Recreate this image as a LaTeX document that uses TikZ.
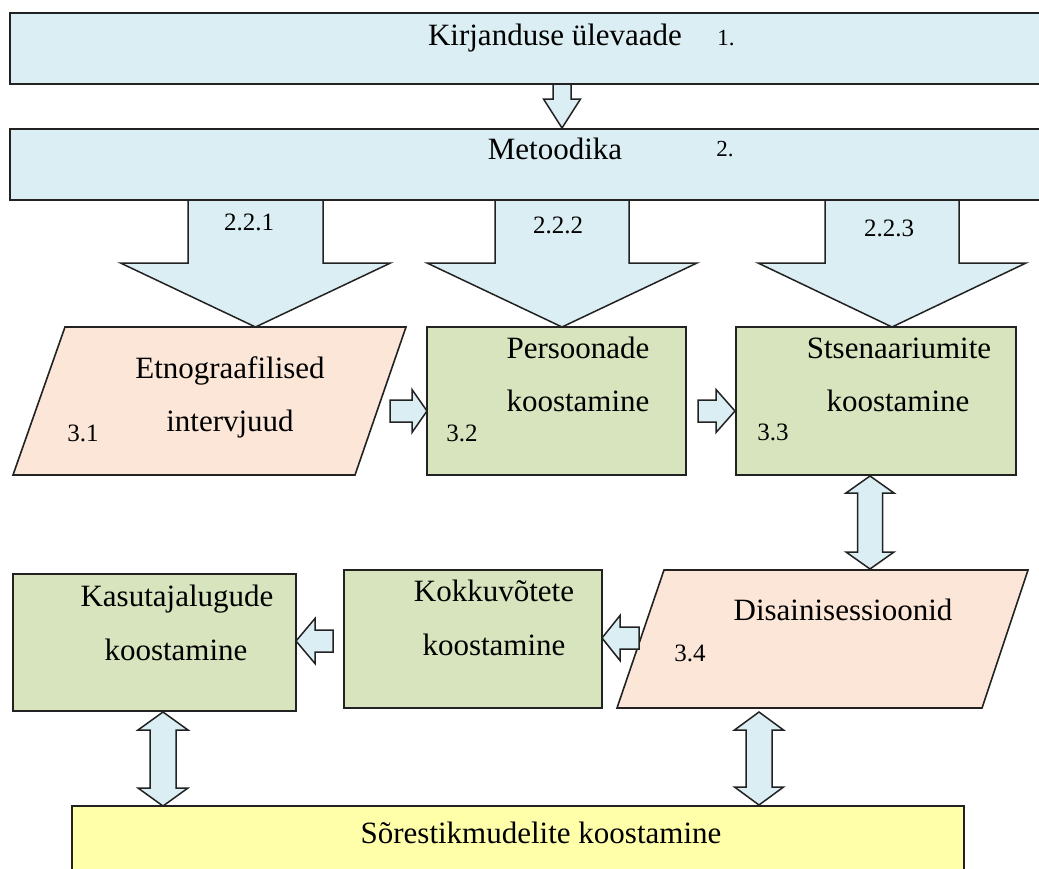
\documentclass[tikz,border=0pt]{standalone}
\usepackage{fontspec}
\setmainfont{Liberation Serif}
\definecolor{blueF}{HTML}{DBEEF4}
\definecolor{greenF}{HTML}{D7E4BD}
\definecolor{peachF}{HTML}{FCE6D8}
\definecolor{yellowF}{HTML}{FFFFAA}
\definecolor{lineC}{HTML}{222222}
\newcommand\blkdown[6]{% cx, ytop, yshoulder, ytip, halfshaft, halfhead
  \draw[barrow] (#1-#5,#2) -- (#1-#5,#3) -- (#1-#6,#3) -- (#1,#4) -- (#1+#6,#3) -- (#1+#5,#3) -- (#1+#5,#2) -- cycle;}
\newcommand\blkh[6]{% xtail, xbase, xtip, cy, halfshaft, halfhead
  \draw[barrow] (#1,#4-#5) -- (#2,#4-#5) -- (#2,#4-#6) -- (#3,#4) -- (#2,#4+#6) -- (#2,#4+#5) -- (#1,#4+#5) -- cycle;}
\newcommand\blkdbl[7]{% cx, ytop, ybase1, ybase2, ybot, halfshaft, halfhead
  \draw[barrow] (#1,#2) -- (#1+#7,#3) -- (#1+#6,#3) -- (#1+#6,#4) -- (#1+#7,#4) -- (#1,#5) -- (#1-#7,#4) -- (#1-#6,#4) -- (#1-#6,#3) -- (#1-#7,#3) -- cycle;}
\begin{document}
\begin{tikzpicture}[x=1pt,y=-1pt,
  rbox/.style={draw=lineC, line width=1.6pt, inner sep=0pt, outer sep=0pt, anchor=north west},
  pbox/.style={draw=lineC, line width=1.6pt, line join=miter},
  barrow/.style={draw=lineC, fill=blueF, line width=1.5pt, line join=miter},
  lbl/.style={font=\fontsize{31}{36}\selectfont, inner sep=0pt, text height=0.68em, text depth=0pt},
  num/.style={font=\fontsize{25}{29}\selectfont, inner sep=0pt, text height=0.68em, text depth=0pt},
  snum/.style={font=\fontsize{23}{27}\selectfont, inner sep=0pt, text height=0.68em, text depth=0pt}]
\clip (0,0) rectangle (1039,868);
\useasboundingbox (0,0) rectangle (1039,868);
\fill[white] (0,0) rectangle (1039,868);

% top boxes
\node[rbox, fill=blueF, minimum width=1045pt, minimum height=71pt] (lit) at (10,13) {};
\node[rbox, fill=blueF, minimum width=1045pt, minimum height=71pt] (met) at (10,129) {};

% row 3
\draw[pbox, fill=peachF] (65,327) coordinate (etA) -- (406,327) -- (355,475) -- (13,475) -- cycle;
\node[rbox, fill=greenF, minimum width=259pt, minimum height=148pt] (per) at (427,327) {};
\node[rbox, fill=greenF, minimum width=280pt, minimum height=148pt] (sts) at (736,327) {};

% row 4
\node[rbox, fill=greenF, minimum width=283pt, minimum height=137pt] (kas) at (13,574) {};
\node[rbox, fill=greenF, minimum width=258pt, minimum height=138pt] (kok) at (344,570) {};
\draw[pbox, fill=peachF] (664,570) coordinate (diA) -- (1028,570) -- (982,708) -- (617,708) -- cycle;

% bottom box
\node[rbox, fill=yellowF, minimum width=892pt, minimum height=80pt] (sor) at (72,806) {};

% block arrows
\blkdown{562}{84}{99}{128}{9}{18.5}
\blkdown{255.5}{200}{263}{327}{67.5}{135}
\blkdown{562}{200}{263}{327}{67}{135}
\blkdown{892}{200}{263}{327}{67}{134}
\blkh{390}{412}{427}{411}{11}{21.5}
\blkh{698}{716}{735}{411}{11}{21.5}
\blkh{639}{620}{602}{638}{11}{22.5}
\blkh{333}{315}{296}{641}{11}{22.5}
\blkdbl{870}{476}{493}{552}{569}{12.5}{24}
\blkdbl{163}{712}{730}{788}{806}{13}{25}
\blkdbl{759}{712}{730}{787}{805}{13}{24.5}

% texts
\node[lbl] (tlit) at (555,42) {Kirjanduse ülevaade};
\node[snum] (nlit) at (726,42) {1.};
\node[lbl] (tmet) at (555,156) {Metoodika};
\node[snum] (nmet) at (725,153) {2.};
\node[num] (n221) at (249,227) {2.2.1};
\node[num] (n222) at (558,230) {2.2.2};
\node[num] (n223) at (889,233) {2.2.3};
\node[lbl] (tet1) at (230,375) {Etnograafilised};
\node[lbl] (tet2) at (230,428) {intervjuud};
\node[num] (n31) at (83,438) {3.1};
\node[lbl] (tpe1) at (578,355) {Persoonade};
\node[lbl] (tpe2) at (578,408) {koostamine};
\node[num] (n32) at (462,438) {3.2};
\node[lbl] (tst1) at (899,355) {Stsenaariumite};
\node[lbl] (tst2) at (898,408) {koostamine};
\node[num] (n33) at (773,437) {3.3};
\node[lbl] (tka1) at (177,603) {Kasutajalugude};
\node[lbl] (tka2) at (176,657) {koostamine};
\node[lbl] (tko1) at (494,598) {Kokkuvõtete};
\node[lbl] (tko2) at (494,652) {koostamine};
\node[lbl] (tdi) at (843,617) {Disainisessioonid};
\node[num] (n34) at (690,658) {3.4};
\node[lbl] (tso) at (541,840) {Sõrestikmudelite koostamine};
\end{tikzpicture}
\end{document}
